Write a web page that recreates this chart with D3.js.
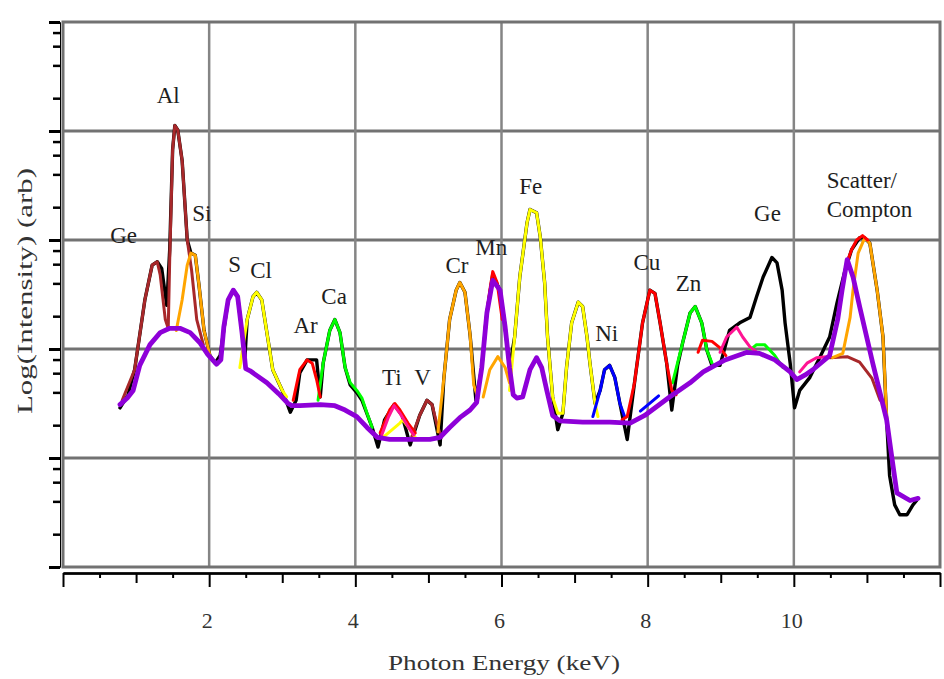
<!DOCTYPE html>
<html>
<head>
<meta charset="utf-8">
<script src="https://cdn.jsdelivr.net/npm/d3@7"></script>
<style>
  body { margin: 0; background: #fff; }
  svg { display: block; }
  text { font-family: 'Liberation Serif', 'Times New Roman', serif; fill: #1e1e1e; }
</style>
</head>
<body>
<svg width="944" height="679"></svg>
<script>
// values are [photon energy keV, log10 intensity]
const blackSpectrum = [[0.78,1.46],[0.89,1.58],[0.98,1.81],[1.12,2.45],[1.22,2.77],[1.29,2.80],[1.35,2.74],[1.42,2.40],[1.46,2.91],[1.50,3.83],[1.53,4.05],[1.57,4.01],[1.63,3.73],[1.70,3.00],[1.75,2.88],[1.81,2.86],[1.86,2.59],[1.93,2.17],[2.01,1.94],[2.08,1.87],[2.15,1.94],[2.26,2.45],[2.33,2.54],[2.39,2.48],[2.45,2.15],[2.49,1.93],[2.52,2.27],[2.60,2.48],[2.65,2.52],[2.72,2.45],[2.79,2.15],[2.87,1.81],[3.00,1.62],[3.11,1.42],[3.19,1.53],[3.24,1.78],[3.34,1.90],[3.47,1.90],[3.52,1.56],[3.56,1.87],[3.65,2.17],[3.72,2.27],[3.79,2.15],[3.86,1.83],[3.93,1.67],[4.02,1.60],[4.09,1.53],[4.23,1.28],[4.31,1.10],[4.40,1.35],[4.53,1.49],[4.64,1.39],[4.75,1.12],[4.88,1.39],[4.98,1.53],[5.05,1.49],[5.16,1.12],[5.21,1.72],[5.29,2.27],[5.38,2.54],[5.43,2.61],[5.50,2.52],[5.57,2.13],[5.65,1.53],[5.73,1.83],[5.80,2.33],[5.88,2.68],[5.98,2.54],[6.05,2.20],[6.11,1.83],[6.18,2.11],[6.25,2.66],[6.35,3.16],[6.39,3.28],[6.48,3.25],[6.53,3.03],[6.59,2.61],[6.63,2.11],[6.70,1.56],[6.77,1.26],[6.84,1.41],[6.89,1.83],[6.96,2.24],[7.05,2.43],[7.11,2.39],[7.17,2.11],[7.21,1.87],[7.28,1.50],[7.35,1.62],[7.41,1.81],[7.48,1.85],[7.55,1.74],[7.62,1.50],[7.72,1.17],[7.82,1.69],[7.93,2.24],[8.03,2.54],[8.10,2.51],[8.17,2.24],[8.26,1.87],[8.33,1.44],[8.41,1.85],[8.48,2.06],[8.58,2.33],[8.65,2.39],[8.74,2.24],[8.81,1.99],[8.88,1.85],[8.99,1.85],[9.12,2.17],[9.26,2.24],[9.40,2.29],[9.49,2.48],[9.58,2.66],[9.70,2.84],[9.77,2.79],[9.84,2.54],[9.88,2.24],[9.95,1.87],[10.01,1.46],[10.08,1.62],[10.22,1.74],[10.36,1.93],[10.49,2.11],[10.59,2.42],[10.70,2.72],[10.79,2.91],[10.90,3.02],[10.97,3.02],[11.04,2.97],[11.14,2.54],[11.22,2.11],[11.27,1.35],[11.31,0.84],[11.38,0.57],[11.45,0.48],[11.55,0.48],[11.63,0.57],[11.68,0.61]];

const purpleSpectrum = [[0.78,1.49],[0.88,1.55],[0.96,1.62],[1.05,1.85],[1.19,2.04],[1.33,2.15],[1.46,2.19],[1.60,2.19],[1.74,2.15],[1.87,2.06],[1.98,1.95],[2.10,1.86],[2.16,1.90],[2.20,2.20],[2.26,2.45],[2.33,2.54],[2.39,2.48],[2.45,2.15],[2.50,1.82],[2.56,1.80],[2.79,1.69],[2.95,1.59],[3.08,1.50],[3.13,1.48],[3.24,1.48],[3.52,1.49],[3.72,1.48],[3.86,1.44],[4.02,1.38],[4.16,1.28],[4.30,1.19],[4.47,1.17],[4.75,1.17],[5.02,1.17],[5.16,1.19],[5.29,1.28],[5.43,1.37],[5.57,1.44],[5.66,1.51],[5.73,1.83],[5.80,2.33],[5.88,2.63],[5.98,2.54],[6.05,2.20],[6.11,1.83],[6.16,1.58],[6.21,1.55],[6.29,1.56],[6.39,1.81],[6.48,1.92],[6.55,1.83],[6.62,1.62],[6.70,1.39],[6.80,1.34],[7.11,1.33],[7.48,1.33],[7.76,1.32],[7.96,1.39],[8.30,1.56],[8.58,1.69],[8.76,1.79],[9.06,1.90],[9.36,1.97],[9.53,1.96],[9.74,1.90],[9.95,1.79],[10.04,1.72],[10.15,1.76],[10.26,1.81],[10.49,1.94],[10.60,2.27],[10.66,2.54],[10.73,2.82],[10.81,2.66],[10.90,2.39],[11.08,1.87],[11.27,1.35],[11.34,1.01],[11.41,0.68],[11.59,0.61],[11.70,0.63]];

const brownPeaks = [
  [[0.81,1.53],[0.98,1.81],[1.12,2.45],[1.22,2.77],[1.29,2.80],[1.33,2.68],[1.40,2.27],[1.44,2.19],[1.46,2.82],[1.50,3.83],[1.53,4.05],[1.57,4.01],[1.63,3.73],[1.70,3.00],[1.76,2.72],[1.83,2.27],[1.92,2.04]],
  [[4.77,1.19],[4.88,1.39],[4.98,1.53],[5.05,1.49],[5.12,1.30],[5.18,1.19]],
  [[10.49,1.92],[10.73,1.93],[10.90,1.88],[11.07,1.73],[11.18,1.53]]
];
const yellowPeaks = [
  [[2.42,1.83],[2.52,2.27],[2.60,2.48],[2.65,2.52],[2.72,2.45],[2.79,2.15],[2.87,1.81],[3.00,1.62],[3.06,1.56]],
  [[4.38,1.19],[4.61,1.32],[4.65,1.35],[4.75,1.26],[4.82,1.19]],
  [[6.11,1.62],[6.18,2.11],[6.25,2.66],[6.35,3.16],[6.39,3.28],[6.48,3.25],[6.53,3.03],[6.59,2.61],[6.63,2.11],[6.70,1.56],[6.77,1.41],[6.84,1.41],[6.89,1.83],[6.96,2.24],[7.05,2.43],[7.11,2.39],[7.17,2.11],[7.21,1.87],[7.28,1.50],[7.32,1.38]]
];
const orangePeaks = [
  [[1.55,2.17],[1.63,2.45],[1.70,2.77],[1.75,2.88],[1.81,2.86],[1.86,2.59],[1.93,2.17],[2.01,1.94]],
  [[5.13,1.24],[5.21,1.72],[5.29,2.27],[5.38,2.54],[5.43,2.61],[5.50,2.52],[5.57,2.13],[5.62,1.67],[5.68,1.55]],
  [[5.75,1.56],[5.84,1.81],[5.95,1.93],[6.05,1.83],[6.11,1.69]],
  [[10.53,1.92],[10.67,1.96],[10.77,2.29],[10.81,2.54],[10.88,2.88],[10.97,3.02],[11.04,2.97],[11.14,2.54],[11.22,2.11],[11.27,1.38],[11.34,0.98]]
];
const greenPeaks = [
  [[3.49,1.53],[3.56,1.87],[3.65,2.17],[3.72,2.27],[3.79,2.15],[3.86,1.83],[3.93,1.69],[4.02,1.62],[4.09,1.55],[4.16,1.41],[4.23,1.28]],
  [[8.34,1.69],[8.48,2.06],[8.58,2.33],[8.65,2.39],[8.74,2.24],[8.81,1.99],[8.88,1.87]],
  [[9.40,1.99],[9.49,2.04],[9.60,2.04],[9.74,1.94],[9.85,1.83]]
];
const bluePeaks = [
  [[7.25,1.38],[7.35,1.62],[7.41,1.81],[7.48,1.85],[7.55,1.74],[7.62,1.50],[7.69,1.37]],
  [[7.90,1.43],[8.15,1.57]]
];
const redPeaks = [
  [[3.15,1.53],[3.24,1.81],[3.34,1.90],[3.41,1.87],[3.47,1.72],[3.52,1.56]],
  [[4.34,1.23],[4.47,1.44],[4.54,1.50],[4.61,1.44],[4.72,1.32],[4.82,1.23]],
  [[5.77,2.17],[5.84,2.54],[5.88,2.71],[5.94,2.61],[6.01,2.27]],
  [[7.65,1.35],[7.72,1.38],[7.82,1.69],[7.93,2.24],[8.03,2.54],[8.10,2.51],[8.17,2.24],[8.26,1.87],[8.33,1.62],[8.39,1.58]],
  [[8.69,1.97],[8.75,2.08],[8.88,2.07],[8.99,2.01],[9.07,1.94]],
  [[10.73,2.80],[10.79,2.91],[10.86,3.00],[10.94,3.04],[11.01,3.00]]
];
const pinkPeaks = [
  [[4.36,1.21],[4.45,1.37],[4.53,1.48],[4.61,1.41],[4.71,1.30],[4.80,1.21]],
  [[8.99,1.97],[9.08,2.11],[9.22,2.20],[9.30,2.11],[9.40,2.02],[9.49,1.97]],
  [[10.08,1.79],[10.18,1.87],[10.31,1.92],[10.45,1.93]]
];

const peakNames = ['Ge', 'Al', 'Si', 'S', 'Cl', 'Ar', 'Ca', 'Ti', 'V', 'Cr', 'Mn', 'Fe', 'Ni', 'Cu', 'Zn', 'Ge'];
const peakNameE = [0.83, 1.44, 1.90, 2.35, 2.71, 3.32, 3.71, 4.50, 4.92, 5.39, 5.86, 6.40, 7.44, 7.99, 8.56, 9.64];
const peakNameL = [3.04, 4.33, 3.24, 2.78, 2.72, 2.22, 2.48, 1.74, 1.74, 2.77, 2.93, 3.49, 2.14, 2.79, 2.60, 3.24];
const scatterLines = ['Scatter/', 'Compton'];
const scatterE = 10.45;
const scatterL = [3.55, 3.28];

const xLabelTicks = [2, 4, 6, 8, 10];
const decades = [0, 1, 2, 3, 4, 5];

function createViz() {
  const svg = d3.select('svg');
  const left = 63, right = 940, top = 22, bottom = 567;

  const xScale = d3.scaleLinear()
      .domain([0, 12])
      .range([left, right]);
  const yScale = d3.scaleLinear()
      .domain([0, 5])
      .range([bottom, top]);

  // grid
  svg.append('g')
      .selectAll('line')
      .data(decades.slice(1, -1))
      .enter()
      .append('line')
      .attr('x1', left)
      .attr('x2', right)
      .attr('y1', d => yScale(d))
      .attr('y2', d => yScale(d))
      .style('stroke', '#727272')
      .style('stroke-width', '3px');
  svg.append('g')
      .selectAll('line')
      .data(xLabelTicks)
      .enter()
      .append('line')
      .attr('x1', d => xScale(d))
      .attr('x2', d => xScale(d))
      .attr('y1', top)
      .attr('y2', bottom)
      .style('stroke', '#858585')
      .style('stroke-width', '2.5px');
  svg.append('rect')
      .attr('x', left)
      .attr('y', top)
      .attr('width', right - left)
      .attr('height', bottom - top)
      .style('fill', 'none')
      .style('stroke', '#727272')
      .style('stroke-width', '3px');

  // y axis, log decades with minor ticks at 2,4,6,8
  const minor = [];
  decades.slice(0, -1).forEach(k => [2, 4, 6, 8].forEach(m => minor.push(k + Math.log10(m))));
  const yMajor = d3.axisLeft(yScale).tickValues(decades).tickSize(11).tickSizeOuter(0).tickFormat('');
  const yMinor = d3.axisLeft(yScale).tickValues(minor).tickSize(7).tickSizeOuter(0).tickFormat('');
  svg.append('g')
      .attr('transform', 'translate(60, 0)')
      .call(yMajor)
      .call(g => g.selectAll('line').style('stroke-width', '3px'));
  svg.append('g')
      .attr('transform', 'translate(60, 0)')
      .call(yMinor)
      .call(g => g.selectAll('line').style('stroke-width', '2.5px'));

  // x axis: half, whole and even keV ticks
  const xAxisY = 573;
  const half = d3.range(0.5, 12, 1);
  const whole = d3.range(1, 12, 2);
  const even = d3.range(0, 12.01, 2);
  [[half, 5], [whole, 10], [even, 14]].forEach(([vals, size]) => {
    svg.append('g')
        .attr('transform', `translate(0, ${xAxisY})`)
        .call(d3.axisBottom(xScale).tickValues(vals).tickSize(size).tickSizeOuter(0).tickFormat(''))
        .call(g => g.selectAll('line').style('stroke-width', '2px'))
        .call(g => g.select('.domain').style('stroke-width', '2px'));
  });
  svg.append('g')
      .selectAll('text')
      .data(xLabelTicks)
      .enter()
      .append('text')
      .attr('x', d => xScale(d) - 2)
      .attr('y', 628)
      .attr('text-anchor', 'middle')
      .style('font-size', '22px')
      .style('fill', '#333')
      .text(d => d);

  svg.append('text')
      .attr('x', 504)
      .attr('y', 670)
      .attr('text-anchor', 'middle')
      .attr('textLength', 232)
      .attr('lengthAdjust', 'spacingAndGlyphs')
      .style('font-size', '22px')
      .style('fill', '#333')
      .text('Photon Energy (keV)');
  svg.append('text')
      .attr('transform', 'translate(32, 291) rotate(-90)')
      .attr('text-anchor', 'middle')
      .attr('textLength', 246)
      .attr('lengthAdjust', 'spacingAndGlyphs')
      .style('font-size', '22px')
      .style('fill', '#333')
      .text('Log(Intensity) (arb)');

  // spectra
  const line = d3.line()
      .x(d => xScale(d[0]))
      .y(d => yScale(d[1]));
  const layers = [
    { segs: [blackSpectrum], color: '#000000', width: 3.4 },
    { segs: brownPeaks, color: '#a8282a', width: 3 },
    { segs: yellowPeaks, color: '#ffff00', width: 3 },
    { segs: orangePeaks, color: '#ffa500', width: 3 },
    { segs: greenPeaks, color: '#00ff00', width: 3 },
    { segs: bluePeaks, color: '#0000ff', width: 3 },
    { segs: redPeaks, color: '#ff0000', width: 3 },
    { segs: pinkPeaks, color: '#ff1493', width: 3 },
    { segs: [purpleSpectrum], color: '#8e00d8', width: 4.8 }
  ];
  layers.forEach(layer => {
    svg.append('g')
        .selectAll('path')
        .data(layer.segs)
        .enter()
        .append('path')
        .attr('d', line)
        .style('fill', 'none')
        .style('stroke', layer.color)
        .style('stroke-width', layer.width + 'px')
        .style('stroke-linejoin', 'round')
        .style('stroke-linecap', 'round');
  });

  // element labels
  svg.append('g')
      .selectAll('text')
      .data(peakNames)
      .enter()
      .append('text')
      .attr('x', (d, i) => xScale(peakNameE[i]))
      .attr('y', (d, i) => yScale(peakNameL[i]))
      .attr('dy', '0.33em')
      .attr('text-anchor', 'middle')
      .style('font-size', '23px')
      .text(d => d);
  svg.append('g')
      .selectAll('text')
      .data(scatterLines)
      .enter()
      .append('text')
      .attr('x', xScale(scatterE))
      .attr('y', (d, i) => yScale(scatterL[i]))
      .attr('dy', '0.33em')
      .style('font-size', '23px')
      .text(d => d);
}

createViz();
</script>
</body>
</html>
